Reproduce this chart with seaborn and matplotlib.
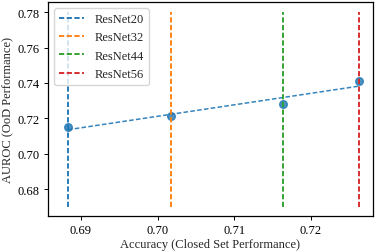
import numpy as np
import matplotlib
matplotlib.use("Agg")
import matplotlib.pyplot as plt
import seaborn as sns

# =============================
# DATA
# =============================
models = ["ResNet20", "ResNet32", "ResNet44", "ResNet56"]
accuracy = [0.6883, 0.7017, 0.7164, 0.7263]
auroc = [0.7150, 0.7215, 0.7280, 0.7413]

sns.set_style("ticks", {"axes.edgecolor": "black", "xtick.color": "black", "ytick.color": "black"})
plt.rcParams["font.family"] = ["Liberation Serif", "DejaVu Serif"]
plt.rcParams["font.size"] = 9
plt.rcParams["axes.linewidth"] = 0.9

fig = plt.figure(figsize=(3.81, 2.53), dpi=100)
ax = fig.add_axes([48 / 381, (253 - 216.7) / 253, (373 - 48) / 381, (216.7 - 3) / 253])

# scatter + linear fit
sns.regplot(x=accuracy, y=auroc, ci=None, ax=ax, color="C0",
            scatter_kws=dict(s=30, zorder=2),
            line_kws=dict(ls=(0, (3.0, 1.5)), lw=1.1, alpha=0.9))

# one vertical line per model
palette = sns.color_palette("tab10", 4)
for name, acc, col in zip(models, accuracy, palette):
    ax.vlines(acc, 0.67, 0.78, colors=[col], linestyles=[(0, (2.8, 1.3))], lw=1.35,
              label=name, zorder=3)

ax.set_xlim(0.6857, 0.7281)
ax.set_ylim(0.6649, 0.7858)
ax.set_xticks([0.69, 0.70, 0.71, 0.72])
ax.set_yticks([0.68, 0.70, 0.72, 0.74, 0.76, 0.78])
ax.set_xlabel("Accuracy (Closed Set Performance)", labelpad=1.2)
ax.set_ylabel("AUROC (OoD Performance)", labelpad=1.8)
ax.tick_params(direction="out", length=3, width=0.7, pad=3.2, labelsize=9)
ax.legend(loc="upper left", fontsize=9, borderaxespad=0.5)

plt.savefig("out.png", dpi=100)
